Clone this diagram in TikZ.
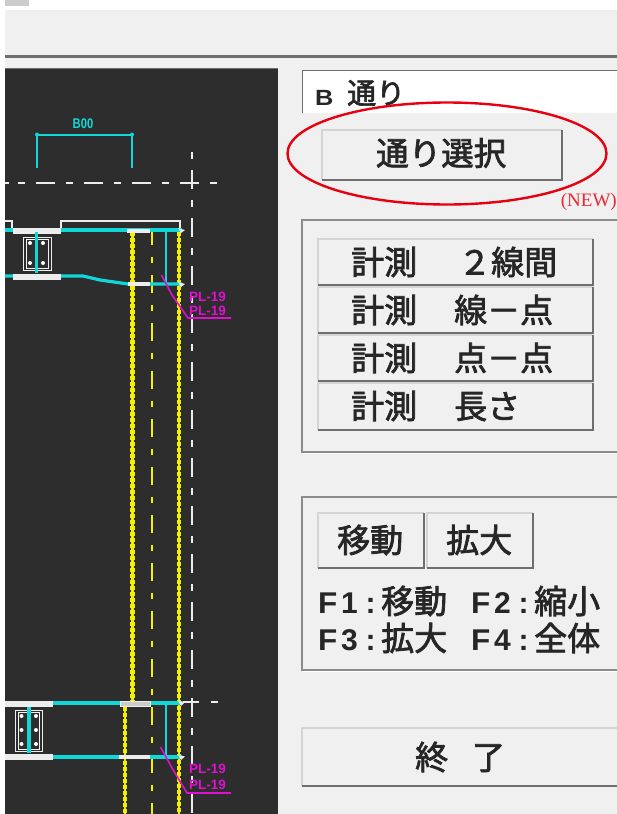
\documentclass[tikz,border=0pt]{standalone}
\usepackage{fontspec}
\setmainfont{Liberation Serif}
\newfontfamily\jp{Noto Sans CJK JP}[FakeBold=2.2]
\newfontfamily\latn{Liberation Sans}
\definecolor{uibg}{HTML}{F0F0F0}
\definecolor{panel}{HTML}{2D2D2D}
\definecolor{edgedk}{HTML}{6E6E6E}
\definecolor{edgelt}{HTML}{D4D4D4}
\definecolor{cadcyan}{HTML}{10D8D8}
\definecolor{cadyel}{HTML}{F2F000}
\definecolor{cadmag}{HTML}{E010D0}
\definecolor{cadwht}{HTML}{EDEDED}
\definecolor{ringred}{HTML}{E80010}
\newcommand{\uibtn}[4]{%
  \fill[uibg] (#1,#2) rectangle (#3,#4);
  \draw[edgelt,line width=1.2pt] (#1,#4) -- (#1,#2) -- (#3,#2);
  \draw[edgedk,line width=2.4pt] (#1,#4) -- (#3,#4) -- (#3,#2);
}
\newcommand{\uigroup}[4]{%
  \draw[edgedk!80,line width=1.3pt] (#3,#2) -- (#1,#2) -- (#1,#4) -- (#3,#4);
  \draw[white,line width=.8pt] (#1+1.2,#4+1.2) -- (#3,#4+1.2);
}
\newcommand{\boltplate}[4]{%
  \draw[cadwht,line width=1pt] (#1,#2) rectangle (#3,#4);
  \draw[cadwht!60,line width=.7pt] (#1+3,#2+2) rectangle (#3-3,#4-2);
}
\newcommand{\fk}[2]{{\latn\bfseries\fontsize{30}{30}\selectfont\makebox[23pt][l]{\scalebox{1.05}[1]{F}}\makebox[20pt][l]{#1}\makebox[19pt][c]{:}}\hspace{1pt}#2}
\tikzset{
  x=1pt,y=-1pt,
  jptext/.style={inner sep=0pt,anchor=west,text=black!85,font=\jp\fontsize{33}{33}\selectfont},
  cyanline/.style={cadcyan,line width=3.2pt},
  cyanthin/.style={cadcyan,line width=2pt},
  flange/.style={cadwht,line width=6pt},
  axisline/.style={cadwht,line width=2pt,dash pattern=on 7pt off 11pt on 19pt off 11pt},
  yelcore/.style={cadyel,line width=2.6pt},
  yelbead/.style={cadyel,line width=4.4pt,dash pattern=on 4pt off 2pt},
  yelaxis/.style={cadyel,line width=2.8pt,dash pattern=on 18pt off 12pt on 6pt off 12pt},
  magline/.style={cadmag,line width=1.6pt},
  maglabel/.style={inner sep=0pt,anchor=west,text=cadmag,font=\latn\bfseries\fontsize{13.5}{13.5}\selectfont},
  boltdot/.style={circle,fill=white,inner sep=0pt,minimum size=4pt},
}
\begin{document}
\begin{tikzpicture}
\useasboundingbox (0,0) rectangle (617,814);
\fill[white] (0,0) rectangle (617,814);
\fill[black!20] (5,0) rectangle (29,6);
\fill[uibg] (5,10) rectangle (617,814);
\draw[edgedk,line width=3pt] (5,56) -- (617,56);
% drawing panel
\fill[panel] (5,68) rectangle (278,814);
\draw[edgedk,line width=1.8pt] (5,68.5) -- (278,68.5);
\begin{scope}
\clip (5,68) rectangle (278,814);
% dimension
\node[inner sep=0pt,text=cadcyan,xscale=.8,font=\latn\bfseries\fontsize{14}{14}\selectfont] (dimtext) at (83,124) {B00};
\coordinate (dimL) at (37,134.5);
\coordinate (dimR) at (132,134.5);
\draw[cyanthin] (37,168) -- (dimL) -- (dimR) -- (132,168);
\fill[cadcyan] (dimL) circle (2pt) (dimR) circle (2pt);
% axes
\draw[axisline] (18,183) -- (218,183);
\draw[cadwht,line width=2pt] (5,183) -- (9,183);
\draw[axisline] (192,152) -- (192,814);
\draw[cadwht,line width=2pt] (183,702) -- (199,702) (211,702) -- (218,702);
% upper columns
\draw[yelcore] (132.5,232) -- (132.5,702);
\draw[yelbead] (132.5,232) -- (132.5,702);
\draw[yelcore] (179,232) -- (179,814);
\draw[yelbead] (179,232) -- (179,814);
\draw[yelaxis,dash phase=5pt] (152,232) -- (152,814);
% lower left column
\draw[yelcore] (125,707) -- (125,814);
\draw[yelbead] (125,707) -- (125,814);
% upper beam
\draw[cadwht,line width=1.5pt] (5,221) -- (12,221) -- (12,229);
\draw[cadwht,line width=1.5pt] (61,229) -- (61,221) -- (180,221) -- (180,229);
\draw[cyanline] (5,230) -- (182,230);
\draw[flange] (13,231) -- (61,231);
\draw[cadwht,line width=4pt] (127,231) -- (150,231);
\fill[cadwht] (178,228) -- (185,230) -- (181,233) -- cycle;
\boltplate{23}{237}{51}{270}
\draw[cyanline] (36.5,232) -- (36.5,273);
\foreach \bx/\by in {30/243,43/243,30/263,43/263}{\node[boltdot] at (\bx,\by) {};}
\draw[cyanline] (5,276) -- (61,276) -- (83,276) -- (100,280) -- (128,284) -- (182,284);
\draw[flange] (13,276.5) -- (61,276.5);
\draw[cadwht,line width=4pt] (128,284) -- (150,284);
\fill[cadwht] (178,282) -- (185,284) -- (181,287) -- cycle;
\draw[cyanthin] (165.5,231) -- (165.5,284);
% upper magenta
\coordinate (magA) at (161.5,275);
\coordinate (magB) at (188,318);
\coordinate (magC) at (231,318);
\draw[magline] (magA) -- (172,295) -- (magB) -- (magC);
\node[maglabel] (plA) at (189,296.5) {PL-19};
\node[maglabel] (plB) at (189,311) {PL-19};
% lower beam
\draw[cyanline] (5,703) -- (182,703);
\draw[flange] (5,703.5) -- (53,703.5);
\fill[black!20,draw=cadwht,line width=1pt] (120,701.5) rectangle (150,706);
\fill[cadwht] (178,701) -- (185,702) -- (181,706) -- cycle;
\boltplate{15}{710}{42}{751}
\draw[cyanline] (29,707) -- (29,753);
\foreach \bx in {21.5,36}{\foreach \by in {716,730,744}{\node[boltdot] at (\bx,\by) {};}}
\draw[cyanline] (5,757) -- (182,757);
\draw[flange] (5,757) -- (53,757);
\draw[cadwht,line width=4pt] (119,757) -- (150,757);
\fill[cadwht] (178,755) -- (185,756.5) -- (181,760) -- cycle;
\draw[cyanthin] (165.5,703) -- (165.5,757);
% lower magenta
\coordinate (magD) at (160.5,747);
\coordinate (magE) at (187,793);
\coordinate (magF) at (231,793);
\draw[magline] (magD) -- (172,768) -- (magE) -- (magF);
\node[maglabel] (plC) at (189,769) {PL-19};
\node[maglabel] (plD) at (189,785) {PL-19};
\end{scope}
% input box
\fill[white] (302,70) rectangle (617,113);
\draw[edgedk,line width=1.8pt] (302.5,113) -- (302.5,70.5) -- (617,70.5);
\node[inner sep=0pt,anchor=west,text=black!85,xscale=1.15,font=\latn\bfseries\fontsize{22}{22}\selectfont] (bname) at (315,98) {B};
\node[jptext,font=\jp\fontsize{29}{29}\selectfont] (btori) at (347,93) {通り};
% select button
\uibtn{322}{130}{562}{180}
\node[jptext,font=\jp\fontsize{32.5}{32.5}\selectfont] (sel) at (376,153) {通り選択};
\draw[ringred,line width=2.4pt] (447,153.5) ellipse [x radius=159.5, y radius=51];
\node[inner sep=0pt,anchor=east,text=ringred!85,font=\fontsize{19}{19}\selectfont] (newmark) at (617,202) {(NEW)};
% measure group
\uigroup{302}{220}{617}{452}
\uibtn{318}{239}{593}{285}
\uibtn{318}{287}{593}{333}
\uibtn{318}{335}{593}{381}
\uibtn{318}{383}{593}{430}
\node[jptext] (m1) at (351,262) {計測\hspace{41pt}２線間};
\node[jptext] (m2) at (351,310) {計測\hspace{37pt}線－点};
\node[jptext] (m3) at (351,358) {計測\hspace{37pt}点－点};
\node[jptext] (m4) at (351,406) {計測\hspace{37pt}長さ};
% view group
\uigroup{302}{497}{617}{670}
\uibtn{318}{513}{424}{568}
\uibtn{427}{513}{533}{568}
\node[jptext] (mv) at (337,540) {移動};
\node[jptext] (zm) at (446,540) {拡大};
\node[jptext] (f1) at (318,601) {\fk{1}{移動}};
\node[jptext] (f2) at (471,601) {\fk{2}{縮小}};
\node[jptext] (f3) at (318,638) {\fk{3}{拡大}};
\node[jptext] (f4) at (471,638) {\fk{4}{全体}};
% end button
\draw[edgelt,line width=1.2pt] (302,786) -- (302,728) -- (617,728);
\draw[edgedk,line width=2.4pt] (302,786) -- (617,786);
\node[jptext] (endb) at (415,757) {終\hspace{24pt}了};
\end{tikzpicture}
\end{document}
